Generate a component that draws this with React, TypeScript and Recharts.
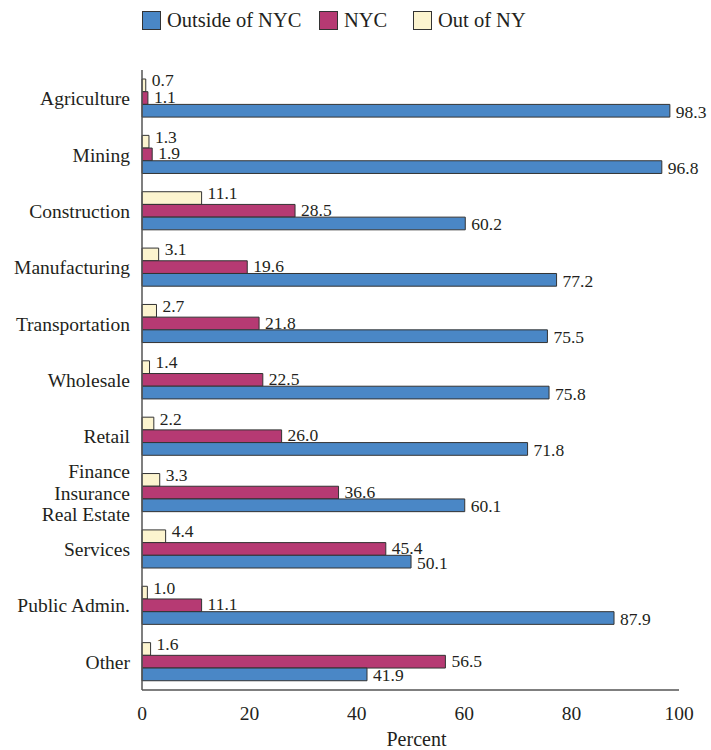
import { BarChart, Bar, XAxis, YAxis, LabelList, Label } from "recharts";

const categories = [
  "Agriculture",
  "Mining",
  "Construction",
  "Manufacturing",
  "Transportation",
  "Wholesale",
  "Retail",
  "Finance\nInsurance\nReal Estate",
  "Services",
  "Public Admin.",
  "Other",
];
const outOfNY = [0.7, 1.3, 11.1, 3.1, 2.7, 1.4, 2.2, 3.3, 4.4, 1.0, 1.6];
const nyc = [1.1, 1.9, 28.5, 19.6, 21.8, 22.5, 26.0, 36.6, 45.4, 11.1, 56.5];
const outsideNYC = [98.3, 96.8, 60.2, 77.2, 75.5, 75.8, 71.8, 60.1, 50.1, 87.9, 41.9];
const xTicks = [0, 20, 40, 60, 80, 100];

const data = categories.map((name, i) => ({
  name,
  outOfNY: outOfNY[i],
  nyc: nyc[i],
  outsideNYC: outsideNYC[i],
}));

const FONT = "Liberation Serif";
const INK = "#231f20";
const BLUE = "#4a87c6";
const MAGENTA = "#b63a73";
const CREAM = "#fcf4cf";

const legendItems = [
  { label: "Outside of NYC", color: BLUE, left: 142 },
  { label: "NYC", color: MAGENTA, left: 319 },
  { label: "Out of NY", color: CREAM, left: 413 },
];

function CategoryTick(props: any) {
  const { x, y, payload } = props;
  const lines = String(payload.value).split("\n");
  const lh = 21.5;
  const start = -((lines.length - 1) * lh) / 2 + 7;
  return (
    <text x={x} y={y} textAnchor="end" fontSize={19.5} style={{ fontFamily: FONT }} fill={INK}>
      {lines.map((l, i) => (
        <tspan key={i} x={x} dy={i === 0 ? start : lh}>
          {l}
        </tspan>
      ))}
    </text>
  );
}

const valueLabel = (shift: number) => (props: any) => {
  const { x, y, width, height, value } = props;
  return (
    <text
      x={x + width + 6}
      y={y + height / 2 + shift + 6}
      fontSize={17.5}
      style={{ fontFamily: FONT }}
      fill={INK}
    >
      {Number(value).toFixed(1)}
    </text>
  );
};

export default function App() {
  return (
    <div
      style={{
        position: "absolute",
        left: 0,
        top: 0,
        width: 711,
        height: 750,
        background: "#fff",
        fontFamily: FONT,
      }}
    >
      {legendItems.map((it) => (
        <div
          key={it.label}
          style={{
            position: "absolute",
            left: it.left,
            top: 9,
            display: "flex",
            alignItems: "center",
            fontFamily: FONT,
            fontSize: 20.5,
            color: INK,
            whiteSpace: "nowrap",
          }}
        >
          <span
            style={{
              display: "inline-block",
              width: 17,
              height: 17,
              background: it.color,
              border: "1.5px solid #333",
              marginRight: 6,
            }}
          />
          {it.label}
        </div>
      ))}
      <BarChart
        width={711}
        height={750}
        data={data}
        layout="vertical"
        margin={{ top: 70, right: 32, bottom: 4, left: 0 }}
        barGap={0}
        barSize={12.7}
        style={{ fontFamily: FONT }}
      >
        <XAxis
          type="number"
          domain={[0, 100]}
          ticks={xTicks}
          interval={0}
          tickLine={false}
          axisLine={{ stroke: "#555", strokeWidth: 1.5 }}
          tick={{ fontSize: 19.5, fill: INK, style: { fontFamily: FONT } }}
          tickMargin={10}
          height={56}
        >
          <Label
            value="Percent"
            position="insideBottom"
            offset={0}
            dx={6}
            style={{ fontSize: 20, fontFamily: FONT, fill: INK }}
          />
        </XAxis>
        <YAxis
          type="category"
          dataKey="name"
          width={142}
          interval={0}
          tickLine={false}
          tickMargin={6}
          axisLine={{ stroke: "#555", strokeWidth: 1.5 }}
          tick={<CategoryTick />}
        />
        <Bar dataKey="outOfNY" fill={CREAM} stroke="#333" strokeWidth={1} isAnimationActive={false}>
          <LabelList dataKey="outOfNY" content={valueLabel(-5)} />
        </Bar>
        <Bar dataKey="nyc" fill={MAGENTA} stroke="#333" strokeWidth={1} isAnimationActive={false}>
          <LabelList dataKey="nyc" content={valueLabel(-1)} />
        </Bar>
        <Bar dataKey="outsideNYC" fill={BLUE} stroke="#333" strokeWidth={1} isAnimationActive={false}>
          <LabelList dataKey="outsideNYC" content={valueLabel(1)} />
        </Bar>
      </BarChart>
    </div>
  );
}
